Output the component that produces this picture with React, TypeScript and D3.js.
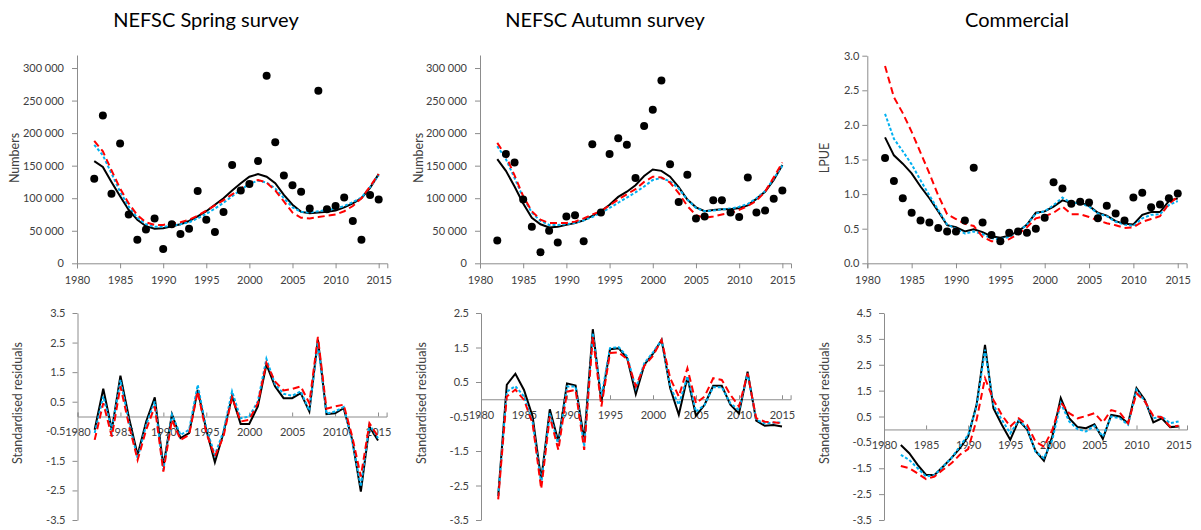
import React, { useEffect, useRef } from 'react';
import * as d3 from 'd3';

// survey years
const years = [1982, 1983, 1984, 1985, 1986, 1987, 1988, 1989, 1990, 1991,
  1992, 1993, 1994, 1995, 1996, 1997, 1998, 1999, 2000, 2001,
  2002, 2003, 2004, 2005, 2006, 2007, 2008, 2009, 2010, 2011,
  2012, 2013, 2014, 2015];

const x_ticks = [1980, 1985, 1990, 1995, 2000, 2005, 2010, 2015];
const numbers_ticks = [0, 50000, 100000, 150000, 200000, 250000, 300000];
const lpue_ticks = [0, 0.5, 1.0, 1.5, 2.0, 2.5, 3.0];
const resid_ticks_spring = [-3.5, -2.5, -1.5, -0.5, 0.5, 1.5, 2.5, 3.5];
const resid_ticks_autumn = [-3.5, -2.5, -1.5, -0.5, 0.5, 1.5, 2.5];
const resid_ticks_comm = [-3.5, -2.5, -1.5, -0.5, 0.5, 1.5, 2.5, 3.5, 4.5];

// NEFSC spring (thousands)
const spring_obs = [130, 227, 107, 184, 75, 36, 52, 69, 22, 60, 45, 53, 111, 67, 48, 79, 151, 112, 122, 157, 288, 186, 135, 120, 110, 84, 265, 83, 88, 101, 65, 36, 105, 98];
const spring_black = [157, 148, 125, 103, 82, 67, 57, 53, 54, 57, 60, 65, 72, 80, 90, 100, 112, 123, 133, 137, 133, 123, 105, 90, 79, 77, 78, 79, 81, 86, 92, 100, 116, 137];
const spring_red = [188, 172, 143, 115, 92, 74, 63, 59, 59, 61, 63, 67, 73, 81, 89, 97, 106, 115, 124, 128, 124, 112, 95, 78, 70, 69, 71, 73, 75, 80, 88, 100, 118, 137];
const spring_blue = [182, 166, 138, 110, 87, 70, 60, 56, 56, 58, 60, 63, 69, 76, 84, 93, 103, 113, 122, 127, 124, 115, 100, 86, 79, 78, 80, 82, 84, 88, 94, 101, 117, 135];

// NEFSC autumn (thousands)
const autumn_obs = [35, 168, 155, 98, 56, 17, 50, 32, 72, 74, 34, 183, 78, 168, 192, 182, 131, 211, 236, 281, 152, 94, 136, 69, 72, 97, 97, 78, 71, 132, 78, 81, 99, 112];
const autumn_black = [160, 142, 118, 92, 70, 60, 55, 56, 59, 62, 66, 73, 80, 90, 102, 110, 120, 134, 144, 142, 133, 117, 98, 86, 80, 82, 83, 83, 85, 89, 99, 110, 128, 151];
const autumn_red = [185, 165, 135, 103, 80, 67, 62, 62, 62, 64, 69, 75, 80, 89, 98, 106, 114, 125, 133, 132, 124, 108, 88, 74, 70, 72, 75, 77, 82, 88, 96, 110, 132, 155];
const autumn_blue = [180, 160, 131, 101, 78, 65, 59, 59, 60, 62, 66, 71, 78, 85, 93, 101, 109, 118, 128, 131, 126, 115, 98, 85, 80, 81, 83, 84, 87, 91, 100, 111, 130, 150];

// commercial LPUE
const comm_obs = [1.52, 1.19, 0.94, 0.73, 0.62, 0.59, 0.51, 0.46, 0.46, 0.62, 1.38, 0.59, 0.41, 0.32, 0.44, 0.46, 0.44, 0.50, 0.66, 1.17, 1.08, 0.86, 0.89, 0.88, 0.65, 0.83, 0.72, 0.62, 0.95, 1.02, 0.81, 0.85, 0.94, 1.01];
const comm_black = [1.82, 1.56, 1.44, 1.30, 1.11, 0.94, 0.75, 0.55, 0.52, 0.46, 0.49, 0.45, 0.39, 0.37, 0.40, 0.46, 0.56, 0.73, 0.75, 0.82, 0.91, 0.87, 0.88, 0.83, 0.73, 0.69, 0.61, 0.57, 0.56, 0.70, 0.74, 0.74, 0.90, 0.94];
const comm_blue = [2.16, 1.80, 1.62, 1.43, 1.20, 0.98, 0.77, 0.56, 0.50, 0.43, 0.46, 0.42, 0.36, 0.35, 0.38, 0.45, 0.56, 0.72, 0.75, 0.84, 0.95, 0.87, 0.87, 0.82, 0.72, 0.68, 0.60, 0.56, 0.54, 0.65, 0.70, 0.71, 0.84, 0.90];
const comm_red = [2.85, 2.40, 2.17, 1.90, 1.60, 1.30, 0.98, 0.71, 0.64, 0.57, 0.54, 0.38, 0.32, 0.31, 0.35, 0.42, 0.52, 0.65, 0.68, 0.73, 0.82, 0.71, 0.71, 0.67, 0.62, 0.58, 0.55, 0.51, 0.52, 0.60, 0.64, 0.68, 0.86, 0.96];

// standardised residuals
const spring_res_black = [-0.45, 0.94, -0.45, 1.38, -0.05, -1.30, -0.17, 0.65, -1.69, 0.08, -0.73, -0.56, 0.90, -0.45, -1.55, -0.56, 0.68, -0.25, -0.25, 0.34, 1.76, 1.02, 0.62, 0.62, 0.79, 0.17, 2.60, 0.08, 0.11, 0.28, -0.79, -2.54, -0.34, -0.81];
const spring_res_red = [-0.79, 0.45, -0.68, 1.02, -0.30, -1.47, -0.45, 0.34, -1.86, -0.11, -0.79, -0.62, 0.85, -0.56, -1.35, -0.68, 0.65, -0.17, -0.11, 0.45, 1.81, 1.19, 0.88, 0.93, 1.02, 0.45, 2.69, 0.26, 0.34, 0.40, -0.68, -2.03, -0.23, -0.68];
const spring_res_blue = [-0.56, 0.68, -0.45, 1.24, -0.20, -1.41, -0.28, 0.51, -1.80, 0.06, -0.62, -0.45, 1.07, -0.40, -1.30, -0.50, 0.85, -0.06, 0.00, 0.51, 1.95, 1.10, 0.77, 0.70, 0.85, 0.20, 2.48, 0.09, 0.17, 0.32, -0.85, -2.37, -0.28, -0.73];

const autumn_res_black = [-2.80, 0.42, 0.74, 0.27, -0.50, -2.34, -0.29, -1.23, 0.46, 0.40, -1.18, 2.03, -0.07, 1.45, 1.48, 1.19, 0.15, 1.00, 1.32, 1.72, 0.32, -0.45, 0.64, -0.48, -0.16, 0.39, 0.39, -0.16, -0.41, 0.80, -0.62, -0.77, -0.75, -0.79];
const autumn_res_red = [-2.90, 0.08, 0.28, -0.02, -0.70, -2.60, -0.50, -1.47, 0.22, 0.27, -1.47, 1.82, -0.21, 1.34, 1.36, 1.16, 0.37, 0.97, 1.26, 1.72, 0.61, 0.08, 0.90, -0.12, 0.08, 0.61, 0.56, 0.13, -0.21, 0.75, -0.55, -0.65, -0.67, -0.70];
const autumn_res_blue = [-2.80, 0.22, 0.38, 0.08, -0.65, -2.44, -0.40, -1.33, 0.37, 0.37, -1.37, 1.92, 0.08, 1.48, 1.51, 1.24, 0.32, 1.05, 1.36, 1.72, 0.37, -0.16, 0.66, -0.36, -0.16, 0.35, 0.35, -0.12, -0.31, 0.75, -0.60, -0.70, -0.68, -0.67];

const comm_res_black = [-0.60, -0.92, -1.37, -1.76, -1.76, -1.44, -1.11, -0.73, -0.27, 0.95, 3.27, 0.82, 0.18, -0.40, 0.35, 0.00, -0.83, -1.21, -0.27, 1.21, 0.43, 0.09, 0.05, 0.20, -0.36, 0.56, 0.50, 0.24, 1.60, 1.14, 0.27, 0.43, 0.09, 0.11];
const comm_res_blue = [-0.98, -1.18, -1.50, -1.82, -1.76, -1.44, -1.11, -0.66, -0.21, 0.89, 3.08, 0.95, 0.37, -0.15, 0.35, 0.05, -0.86, -1.11, -0.40, 1.02, 0.31, 0.01, -0.08, 0.14, -0.27, 0.50, 0.43, 0.18, 1.53, 1.08, 0.43, 0.50, 0.24, 0.31];
const comm_res_red = [-1.41, -1.50, -1.70, -1.92, -1.82, -1.56, -1.31, -0.98, -0.76, 0.37, 1.98, 1.14, 0.56, 0.11, 0.43, 0.18, -0.47, -0.66, -0.02, 1.04, 0.63, 0.43, 0.52, 0.63, 0.27, 0.75, 0.66, 0.24, 1.40, 1.08, 0.52, 0.47, 0.11, 0.14];

const FONT = "Lato, 'Open Sans', sans-serif";
const AXIS = '#8c8c8c';
const TXT = '#404040';
const BLUE = '#00b0f0';
const RED = '#ff0000';

const k = (a: number[]) => a.map(v => v * 1000);
const fmt_num = (v: number) => d3.format(',')(v).replace(/,/g, ' ');
const fmt_1 = (v: number) => v.toFixed(1);

const panels = [
  { title: 'NEFSC Spring survey', titleX: 206, ylabel: 'Numbers', ylabelX: 15, ylabelY: 158,
    left: 77, right: 387.3, top: 55, bottom: 263.3, ydom: [0, 320000], yticks: numbers_ticks, yfmt: fmt_num, ypad: 8,
    obs: k(spring_obs), black: k(spring_black), blue: k(spring_blue), red: k(spring_red), resid: false },
  { title: 'NEFSC Autumn survey', titleX: 605, ylabel: 'Numbers', ylabelX: 418.5, ylabelY: 158,
    left: 480, right: 791, top: 55, bottom: 263.3, ydom: [0, 320000], yticks: numbers_ticks, yfmt: fmt_num, ypad: 8,
    obs: k(autumn_obs), black: k(autumn_black), blue: k(autumn_blue), red: k(autumn_red), resid: false },
  { title: 'Commercial', titleX: 1017, ylabel: 'LPUE', ylabelX: 825, ylabelY: 158,
    left: 867.3, right: 1186.6, top: 55.7, bottom: 263.3, ydom: [0, 3], yticks: lpue_ticks, yfmt: fmt_1, ypad: 3,
    obs: comm_obs, black: comm_black, blue: comm_blue, red: comm_red, resid: false },
  { title: '', titleX: 0, ylabel: 'Standardised residuals', ylabelX: 18, ylabelY: 403,
    left: 77.5, right: 386.6, top: 313, bottom: 520, ydom: [-3.5, 3.5], yticks: resid_ticks_spring, yfmt: fmt_1, ypad: 7,
    obs: null, black: spring_res_black, blue: spring_res_blue, red: spring_res_red, resid: true },
  { title: '', titleX: 0, ylabel: 'Standardised residuals', ylabelX: 421.5, ylabelY: 403,
    left: 481, right: 790.6, top: 313, bottom: 520, ydom: [-3.5, 2.5], yticks: resid_ticks_autumn, yfmt: fmt_1, ypad: 7,
    obs: null, black: autumn_res_black, blue: autumn_res_blue, red: autumn_res_red, resid: true },
  { title: '', titleX: 0, ylabel: 'Standardised residuals', ylabelX: 825, ylabelY: 403,
    left: 884, right: 1187, top: 313, bottom: 520, ydom: [-3.5, 4.5], yticks: resid_ticks_comm, yfmt: fmt_1, ypad: 7,
    obs: null, black: comm_res_black, blue: comm_res_blue, red: comm_res_red, resid: true },
];

function style_axis(g: any) {
  g.attr('font-family', FONT).attr('font-size', 11);
  g.select('.domain').attr('stroke', AXIS).attr('stroke-width', 1);
  g.selectAll('.tick line').attr('stroke', AXIS);
  g.selectAll('.tick text').attr('fill', TXT);
}

function draw_panel(svg: any, p: any) {
  const x = d3.scaleLinear().domain([1980, 2016]).range([p.left, p.right]);
  const y = d3.scaleLinear().domain(p.ydom).range([p.bottom, p.top]);
  const g = svg.append('g');

  // vertical axis
  g.append('g')
    .attr('transform', `translate(${x(1980)},0)`)
    .call(d3.axisLeft(y).tickValues(p.yticks).tickFormat(p.yfmt).tickSize(5).tickSizeOuter(0).tickPadding(p.ypad))
    .call(style_axis);

  // horizontal axis crosses at zero
  const xa = d3.axisBottom(x).tickValues(x_ticks).tickFormat(d3.format('d')).tickSizeOuter(0);
  if (p.resid) xa.tickSize(-4).tickPadding(12);
  else xa.tickSize(5).tickPadding(8);
  g.append('g')
    .attr('transform', `translate(0,${y(0)})`)
    .call(xa)
    .call(style_axis);

  const line = d3.line<number>().x((d, i) => x(years[i])).y(d => y(d));

  g.append('path').attr('d', line(p.black)).attr('fill', 'none')
    .attr('stroke', '#000').attr('stroke-width', 2);
  g.append('path').attr('d', line(p.blue)).attr('fill', 'none')
    .attr('stroke', BLUE).attr('stroke-width', 2).attr('stroke-dasharray', '3,2');
  g.append('path').attr('d', line(p.red)).attr('fill', 'none')
    .attr('stroke', RED).attr('stroke-width', 2).attr('stroke-dasharray', '7,4');

  if (p.obs) {
    g.append('g').selectAll('circle')
      .data(p.obs)
      .join('circle')
      .attr('cx', (d: number, i: number) => x(years[i]))
      .attr('cy', (d: number) => y(d))
      .attr('r', 4)
      .attr('fill', '#000');
  }

  if (p.title) {
    g.append('text')
      .attr('x', p.titleX).attr('y', 27)
      .attr('text-anchor', 'middle')
      .attr('font-family', FONT).attr('font-size', 20)
      .attr('fill', '#000')
      .text(p.title);
  }

  g.append('text')
    .attr('transform', `translate(${p.ylabelX},${p.ylabelY}) rotate(-90)`)
    .attr('text-anchor', 'middle')
    .attr('dy', '0.35em')
    .attr('font-family', FONT).attr('font-size', 12.5)
    .attr('fill', TXT)
    .text(p.ylabel);
}

export default function App() {
  const ref = useRef<SVGSVGElement>(null);

  useEffect(() => {
    const svg = d3.select(ref.current);
    svg.selectAll('*').remove();
    svg.append('rect').attr('width', 1201).attr('height', 530).attr('fill', '#fff');
    panels.forEach(p => draw_panel(svg, p));
  }, []);

  return (
    <svg ref={ref} width={1201} height={530}
      style={{ position: 'absolute', left: 0, top: 0, background: '#fff' }} />
  );
}
